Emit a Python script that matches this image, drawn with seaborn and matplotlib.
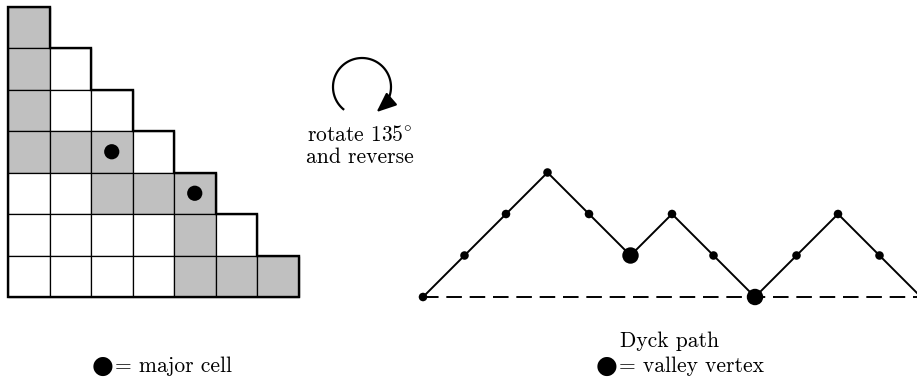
import numpy as np
import matplotlib
matplotlib.use("Agg")
import matplotlib.pyplot as plt
from matplotlib.patches import Rectangle, Polygon
import seaborn as sns

# ------------------------------------------------------------------
# Datos
# ------------------------------------------------------------------
N = 7                                   # filas de la escalera
gray_cells = [(0, 0), (1, 0), (2, 0), (3, 0), (3, 1), (3, 2),
              (4, 2), (4, 3), (4, 4), (5, 4), (6, 4), (6, 5), (6, 6)]   # (fila, col), fila 0 arriba
major_cells = [(3, 2), (4, 4)]
dyck_steps = "UUUDDUDDUUDD"
dyck_x0 = 10                            # inicio del camino (en celdas)

# ------------------------------------------------------------------
# Estilo
# ------------------------------------------------------------------
sns.set_theme(style="white")
plt.rcParams['font.family'] = ['cmr10', 'DejaVu Sans']
plt.rcParams['mathtext.fontset'] = 'cm'
plt.rcParams['axes.formatter.use_mathtext'] = True
plt.rcParams['text.color'] = 'black'
GRAY = '#c0c0c0'
FS = 15.5

U = 41.5            # pixeles por celda
def px(x): return (x - 8) / U
def py(y): return (297 - y) / U

fig = plt.figure(figsize=(9.17, 3.77), dpi=100)
ax = fig.add_axes([0, 0, 1, 1])
ax.set_xlim(px(0), px(917))
ax.set_ylim(py(377), py(0))
ax.set_axis_off()

# ------------------------------------------------------------------
# Escalera de celdas
# ------------------------------------------------------------------
for r in range(N):
    for c in range(r + 1):
        fc = GRAY if (r, c) in gray_cells else 'white'
        ax.add_patch(Rectangle((c, N - 1 - r), 1, 1, facecolor=fc,
                               edgecolor='black', lw=0.9, zorder=1))

outline = [(0, 0), (N, 0)]
for k in range(N, 0, -1):
    outline += [(k, N - k + 1), (k - 1, N - k + 1)]
ax.add_patch(Polygon(outline, closed=True, fill=False, edgecolor='black',
                     lw=1.7, joinstyle='miter', zorder=2))

mx = [c + 0.5 for r, c in major_cells]
my = [N - 1 - r + 0.5 for r, c in major_cells]
sns.scatterplot(x=mx, y=my, ax=ax, color='black', s=120, edgecolor='none', zorder=3)

# ------------------------------------------------------------------
# Camino de Dyck
# ------------------------------------------------------------------
h = np.concatenate([[0], np.cumsum([1 if s == 'U' else -1 for s in dyck_steps])])
xs = dyck_x0 + np.arange(len(h))
valleys = [i for i in range(1, len(dyck_steps))
           if dyck_steps[i - 1] == 'D' and dyck_steps[i] == 'U']

ax.plot([dyck_x0, xs[-1] + 0.5], [0, 0], color='black', lw=1.4,
        dashes=(8, 4), zorder=1)
sns.lineplot(x=xs, y=h, ax=ax, color='black', lw=1.4, sort=False,
             estimator=None, zorder=2)
sns.scatterplot(x=xs, y=h, ax=ax, color='black', s=38, edgecolor='none', zorder=3)
sns.scatterplot(x=xs[valleys], y=h[valleys], ax=ax, color='black', s=140,
                edgecolor='none', zorder=4)

# ------------------------------------------------------------------
# Flecha circular y textos
# ------------------------------------------------------------------
cx, cy, rad = px(362), py(87), 29 / U
def arc_pt(deg):
    return (cx + rad * np.cos(np.radians(deg)), cy + rad * np.sin(np.radians(deg)))

th = np.linspace(232, -40, 80)
ax.plot([arc_pt(t)[0] for t in th], [arc_pt(t)[1] for t in th],
        color='black', lw=1.6, solid_capstyle='butt')
ax.annotate('', xy=arc_pt(-60), xytext=arc_pt(-38),
            arrowprops=dict(arrowstyle='-|>,head_length=0.6,head_width=0.25',
                            mutation_scale=20, lw=1.6, color='black',
                            shrinkA=0, shrinkB=0))

ax.text(px(360), py(146), 'rotate $135^{\\circ}$\nand reverse', ha='center',
        va='center', fontsize=FS, linespacing=1.15)

ax.text(px(670), py(347), 'Dyck path', ha='center', va='baseline', fontsize=FS)

ax.text(px(103), py(373), '\u25cf', ha='center', va='baseline', fontsize=18,
        family='DejaVu Sans')
ax.text(px(115), py(372), '= major cell', ha='left', va='baseline', fontsize=FS)

ax.text(px(607), py(373), '\u25cf', ha='center', va='baseline', fontsize=18,
        family='DejaVu Sans')
ax.text(px(619), py(372), '= valley vertex', ha='left', va='baseline', fontsize=FS)

plt.savefig('out.png', dpi=100)
